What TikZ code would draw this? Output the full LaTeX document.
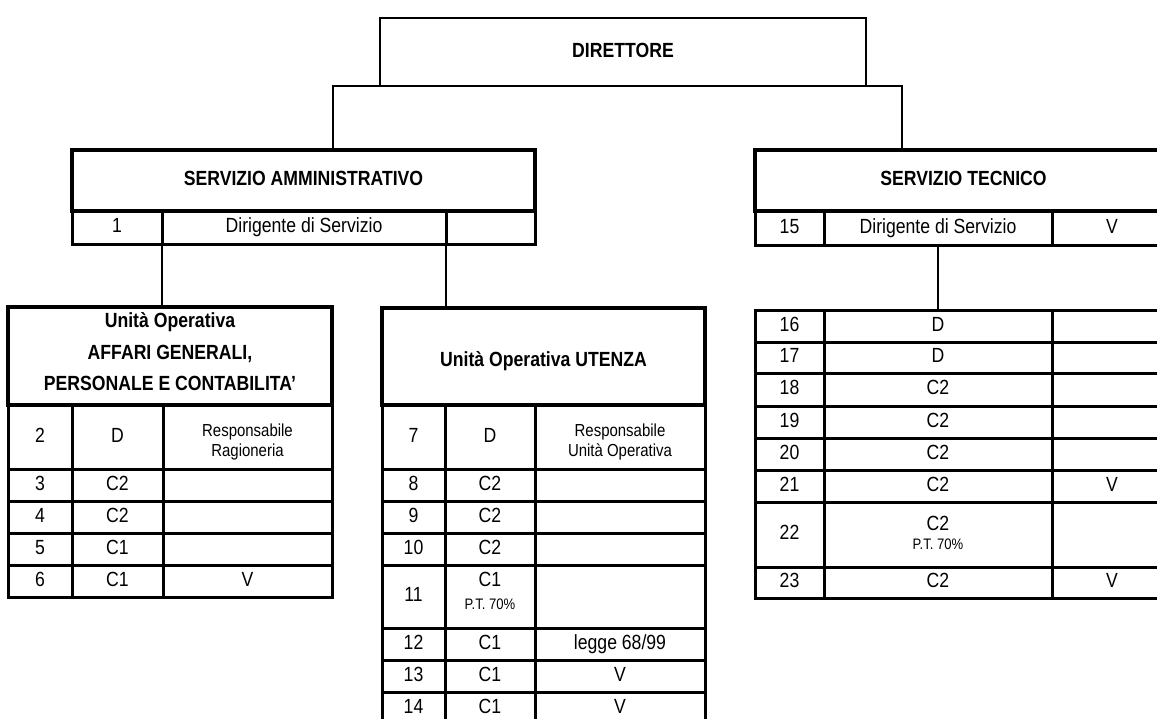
\documentclass[tikz,border=0pt]{standalone}
\usepackage{fontspec}
\setmainfont{Liberation Sans}[FakeStretch=0.86]
\tikzset{
  cell/.style={draw, line width=3pt, inner sep=0pt, outer sep=0pt, align=center,
    font=\fontsize{20.5}{22}\selectfont},
  hbox/.style={cell, line width=4pt, font=\fontsize{20.5}{31.5}\selectfont\bfseries},
  dbox/.style={cell, line width=2.5pt, font=\fontsize{20.5}{22}\selectfont\bfseries},
  link/.style={line width=2.5pt},
}
\makeatletter
\newcommand\cs{\rule[-0.2\dimexpr\f@size pt\relax]{0pt}{0.92\dimexpr\f@size pt\relax}}
\makeatother
\newcommand\smalltxt{\fontsize{17.4}{19}\selectfont}
\newcommand\pttxt{\fontsize{15.2}{16}\selectfont}
\newcommand\cellbox[7][]{\node[cell,#1,minimum width={#5pt-#3pt},minimum height={#6pt-#4pt}] (#2) at ({(#3+#5)/2},{(#4+#6)/2}) {\cs#7\cs};}
\newcommand\trow[6]{%
  \cellbox{#1a}{\xa}{#2}{\xb}{#3}{#4}%
  \cellbox{#1b}{\xb}{#2}{\xc}{#3}{#5}%
  \cellbox{#1c}{\xc}{#2}{\xd}{#3}{#6}}
\begin{document}
\begin{tikzpicture}[x=1pt,y=-1pt]
\useasboundingbox[fill=white] (0,0) rectangle (1157,718);
% Servizio amministrativo row
\def\xa{72}\def\xb{162}\def\xc{446}\def\xd{535}
\trow{r1}{211}{244}{1}{Dirigente di Servizio}{}
% Servizio tecnico row
\def\xa{755}\def\xb{824}\def\xc{1052}\def\xd{1172}
\trow{r15}{211}{245}{15}{Dirigente di Servizio}{V}
% left table
\def\xa{8}\def\xb{72}\def\xc{163}\def\xd{332}
\trow{l2}{405}{469}{2}{D}{\rule{0pt}{22pt}\smalltxt Responsabile\\[-2pt]\smalltxt Ragioneria}
\trow{l3}{469}{501}{3}{C2}{}
\trow{l4}{501}{533}{4}{C2}{}
\trow{l5}{533}{565}{5}{C1}{}
\trow{l6}{565}{597}{6}{C1}{V}
% middle table
\def\xa{382}\def\xb{445}\def\xc{535}\def\xd{705}
\trow{m7}{405}{469}{7}{D}{\rule{0pt}{22pt}\smalltxt Responsabile\\[-2pt]\smalltxt Unità Operativa}
\trow{m8}{469}{501}{8}{C2}{}
\trow{m9}{501}{533}{9}{C2}{}
\trow{m10}{533}{565}{10}{C2}{}
\trow{m11}{565}{628}{11}{C1\\[1pt]\pttxt P.T. 70\%\rule[-12pt]{0pt}{0pt}}{}
\trow{m12}{628}{660}{12}{C1}{legge 68/99}
\trow{m13}{660}{692}{13}{C1}{V}
\trow{m14}{692}{724}{14}{C1}{V}
% right table
\def\xa{755}\def\xb{824}\def\xc{1052}\def\xd{1172}
\trow{t16}{310}{342}{16}{D}{}
\trow{t17}{342}{373}{17}{D}{}
\trow{t18}{373}{406}{18}{C2}{}
\trow{t19}{406}{438}{19}{C2}{}
\trow{t20}{438}{470}{20}{C2}{}
\trow{t21}{470}{502}{21}{C2}{V}
\trow{t22}{502}{567}{22}{C2\\[-3pt]\pttxt P.T. 70\%}{}
\trow{t23}{567}{598}{23}{C2}{V}
% header boxes
\cellbox[dbox]{dir}{380}{18}{866}{86}{DIRETTORE}
\cellbox[hbox]{sa}{72}{150}{535}{211}{SERVIZIO AMMINISTRATIVO}
\cellbox[hbox]{st}{755}{150}{1172}{211}{SERVIZIO TECNICO}
\cellbox[hbox]{ua}{8}{307}{332}{405}{Unità Operativa\\AFFARI GENERALI,\\PERSONALE E CONTABILITA'\rule[-9pt]{0pt}{0pt}}
\cellbox[hbox]{ub}{382}{308}{705}{405}{\rule{0pt}{25pt}Unità Operativa UTENZA}
% connectors
\coordinate (jl) at (333,86);
\coordinate (jr) at (902,86);
\draw[link] (dir.south west) -- (jl) -- (jl |- sa.north);
\draw[link] (dir.south east) -- (jr) -- (jr |- st.north);
\draw[link] (r1a.south east) -- (r1a.south east |- ua.north);
\draw[link] (r1b.south east) -- (r1b.south east |- ub.north);
\draw[link] (r15b.south) -- (r15b.south |- t16b.north);
\end{tikzpicture}
\end{document}
